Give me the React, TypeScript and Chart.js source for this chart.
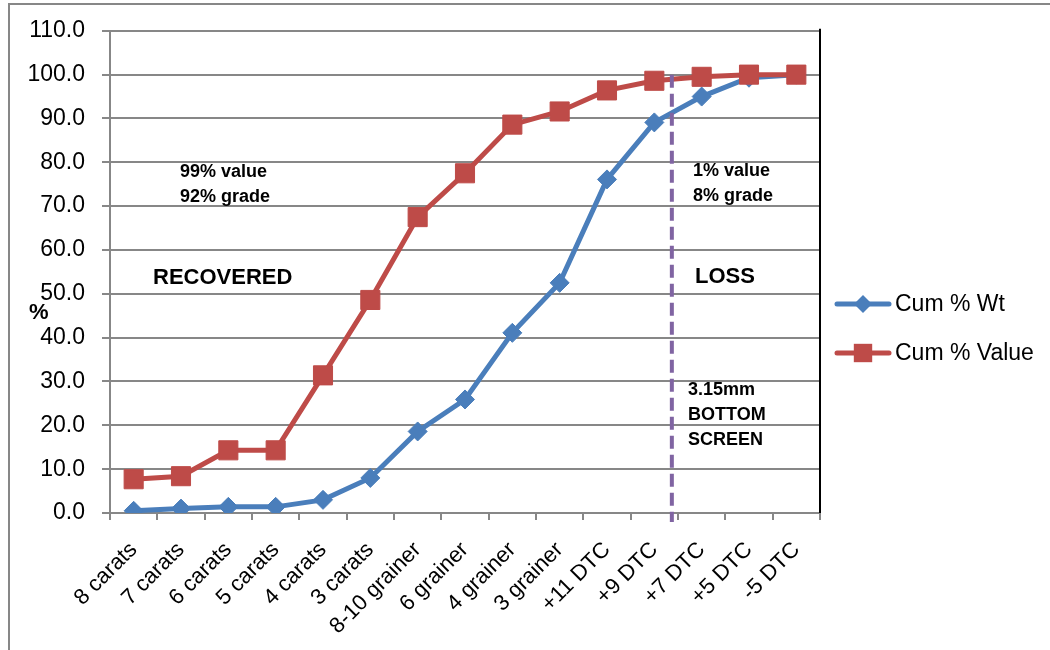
import React, { useEffect, useRef } from "react";
import { Chart, registerables } from "chart.js";

Chart.register(...registerables);

const categories = [
  "8 carats", "7 carats", "6 carats", "5 carats", "4 carats", "3 carats",
  "8-10 grainer", "6 grainer", "4 grainer", "3 grainer",
  "+11 DTC", "+9 DTC", "+7 DTC", "+5 DTC", "-5 DTC",
];
const cumWt = [0.5, 1.0, 1.4, 1.4, 3.0, 8.0, 18.6, 25.9, 41.1, 52.5, 76.1, 89.1, 95.0, 99.3, 100.0];
const cumValue = [7.7, 8.4, 14.3, 14.3, 31.4, 48.6, 67.5, 77.5, 88.6, 91.6, 96.4, 98.6, 99.5, 100.0, 100.0];
const seriesNames = ["Cum % Wt", "Cum % Value"];
const yMin = 0;
const yMax = 110;
const yStep = 10;
const screenIndex = 11.37; // position of 3.15mm bottom screen between +9 and +7 DTC
const screenTop = 100;

const BLUE = "#4A7EBB";
const RED = "#BE4B48";
const PURPLE = "#8064A2";
const GRID = "#878787";
const FONT = "'Liberation Sans', Arial, sans-serif";

const overlayPlugin = {
  id: "overlay",
  beforeDraw(chart: any) {
    const ctx = chart.ctx;
    ctx.save();
    ctx.fillStyle = "#ffffff";
    ctx.fillRect(0, 0, chart.width, chart.height);
    ctx.strokeStyle = GRID;
    ctx.lineWidth = 2;
    ctx.beginPath();
    ctx.moveTo(9, 650);
    ctx.lineTo(9, 4);
    ctx.lineTo(1050, 4);
    ctx.stroke();
    ctx.restore();
  },
  afterDatasetsDraw(chart: any) {
    const ctx = chart.ctx;
    const x = chart.scales.x;
    const y = chart.scales.y;
    const area = chart.chartArea;
    ctx.save();
    // right border of plot
    ctx.strokeStyle = "#000000";
    ctx.lineWidth = 2;
    ctx.beginPath();
    ctx.moveTo(area.right, area.top - 2);
    ctx.lineTo(area.right, area.bottom);
    ctx.stroke();
    // dashed screen line
    const sx = x.getPixelForValue(screenIndex);
    ctx.strokeStyle = PURPLE;
    ctx.lineWidth = 4;
    ctx.setLineDash([13, 6]);
    ctx.beginPath();
    ctx.moveTo(sx, y.getPixelForValue(screenTop));
    ctx.lineTo(sx, area.bottom + 9);
    ctx.stroke();
    ctx.setLineDash([]);

    // annotations
    ctx.fillStyle = "#000000";
    ctx.textAlign = "left";
    ctx.textBaseline = "middle";
    ctx.font = `bold 18px ${FONT}`;
    ctx.fillText("99% value", 180, 172);
    ctx.fillText("92% grade", 180, 197);
    ctx.fillText("1% value", 693, 171);
    ctx.fillText("8% grade", 693, 196);
    ctx.fillText("3.15mm", 688, 390);
    ctx.fillText("BOTTOM", 688, 415);
    ctx.fillText("SCREEN", 688, 440);
    ctx.font = `bold 22px ${FONT}`;
    ctx.fillText("RECOVERED", 153, 278);
    ctx.fillText("LOSS", 695, 277);
    ctx.fillText("%", 29, 313);

    // legend
    const items = [
      { name: seriesNames[0], color: BLUE, style: "rectRot", radius: 9, y: 304 },
      { name: seriesNames[1], color: RED, style: "rect", radius: 13, y: 353 },
    ];
    ctx.font = `23px ${FONT}`;
    for (const it of items) {
      ctx.strokeStyle = it.color;
      ctx.lineWidth = 5;
      ctx.lineCap = "round";
      ctx.beginPath();
      ctx.moveTo(837, it.y);
      ctx.lineTo(889, it.y);
      ctx.stroke();
      ctx.lineCap = "butt";
      ctx.fillStyle = it.color;
      ctx.beginPath();
      if (it.style === "rectRot") {
        ctx.moveTo(863, it.y - it.radius);
        ctx.lineTo(863 + it.radius, it.y);
        ctx.lineTo(863, it.y + it.radius);
        ctx.lineTo(863 - it.radius, it.y);
        ctx.closePath();
      } else {
        const h = it.radius * Math.SQRT1_2;
        ctx.rect(863 - h, it.y - h, 2 * h, 2 * h);
      }
      ctx.fill();
      ctx.fillStyle = "#000000";
      ctx.fillText(it.name, 895, it.y + 1);
    }
    ctx.restore();
  },
};

export default function App() {
  const ref = useRef<HTMLCanvasElement>(null);
  useEffect(() => {
    document.body.style.margin = "0";
    if (!ref.current) return;
    Chart.defaults.font.family = FONT;
    const chart = new Chart(ref.current, {
      type: "line",
      data: {
        labels: categories,
        datasets: [
          {
            label: seriesNames[0],
            data: cumWt,
            borderColor: BLUE,
            backgroundColor: BLUE,
            borderWidth: 5,
            pointStyle: "rectRot",
            pointRadius: 9.5,
            pointBorderWidth: 1,
            pointBorderColor: BLUE,
            pointBackgroundColor: BLUE,
            tension: 0,
            order: 1,
          },
          {
            label: seriesNames[1],
            data: cumValue,
            borderColor: RED,
            backgroundColor: RED,
            borderWidth: 5,
            pointStyle: "rect",
            pointRadius: 13.5,
            pointBorderWidth: 1,
            pointBorderColor: RED,
            pointBackgroundColor: RED,
            tension: 0,
            order: 0,
          },
        ],
      },
      options: {
        responsive: false,
        animation: false,
        devicePixelRatio: 1,
        layout: { padding: { left: 0, top: 29, right: 230, bottom: 0 } },
        plugins: {
          legend: { display: false },
          tooltip: { enabled: false },
          title: { display: false },
        },
        scales: {
          x: {
            type: "category",
            offset: true,
            grid: {
              offset: true,
              drawOnChartArea: false,
              drawTicks: true,
              tickLength: 7,
              color: GRID,
              lineWidth: 2,
            },
            border: { display: true, color: GRID, width: 2 },
            ticks: {
              color: "#000000",
              font: { size: 22, family: FONT },
              minRotation: 45,
              maxRotation: 45,
              autoSkip: false,
              padding: 17,
            },
            afterFit(scale: any) {
              scale.height = 137;
            },
          },
          y: {
            min: yMin,
            max: yMax,
            grid: {
              color: GRID,
              lineWidth: 2,
              drawTicks: true,
              tickLength: 8,
            },
            border: { display: true, color: GRID, width: 2 },
            ticks: {
              stepSize: yStep,
              color: "#000000",
              font: { size: 23, family: FONT },
              padding: 17,
              callback: (v: any) => Number(v).toFixed(1),
            },
            afterFit(scale: any) {
              scale.width = 110;
            },
          },
        },
      },
      plugins: [overlayPlugin],
    });
    return () => chart.destroy();
  }, []);
  return (
    <canvas
      ref={ref}
      width={1050}
      height={650}
      style={{ display: "block", width: "1050px", height: "650px" }}
    />
  );
}
